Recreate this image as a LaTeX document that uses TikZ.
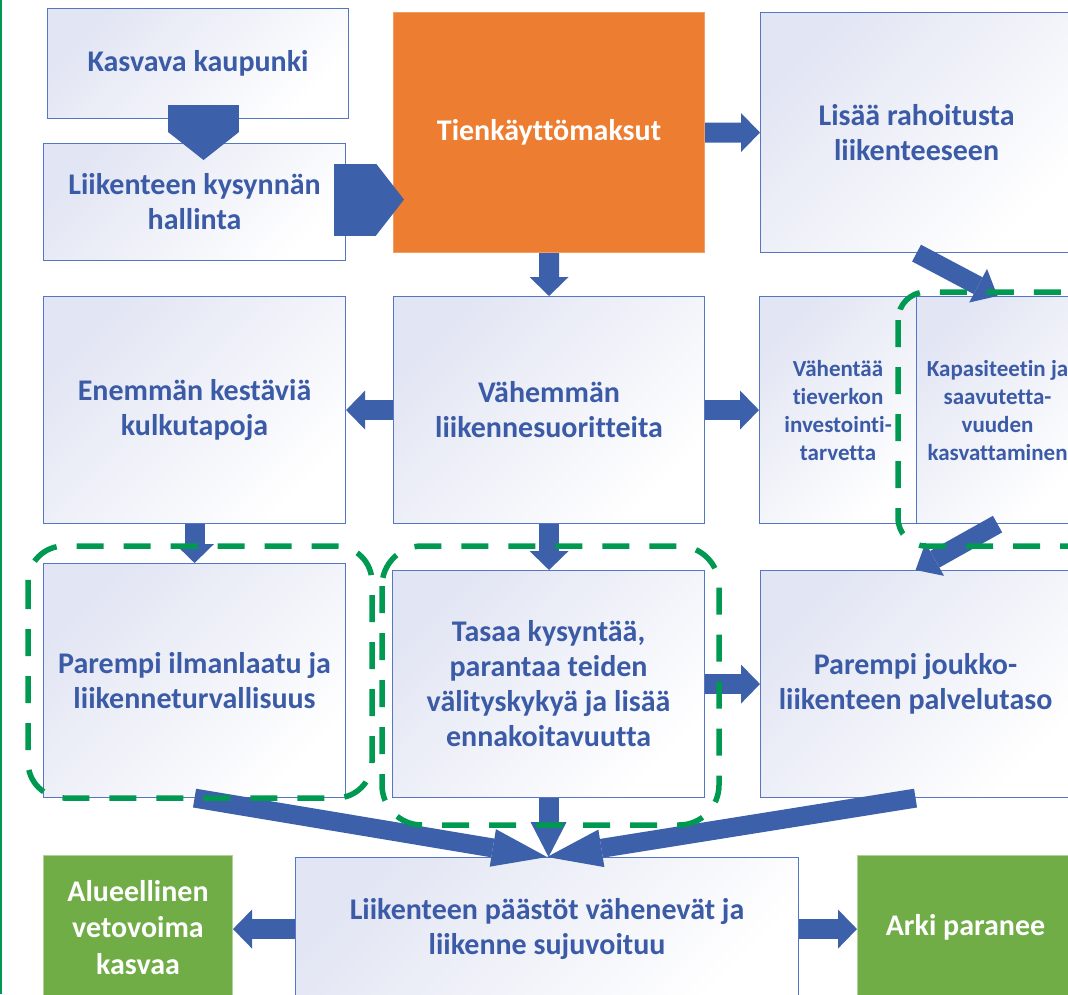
\documentclass[tikz,border=0pt]{standalone}
\usepackage{fontspec}
\setmainfont{Carlito}[Ligatures=NoCommon]
\usetikzlibrary{arrows.meta,calc}
\definecolor{txtblue}{RGB}{59,91,167}
\definecolor{arrblue}{RGB}{61,96,170}
\definecolor{boxedge}{RGB}{84,118,196}
\definecolor{lav}{RGB}{226,229,243}
\definecolor{orng}{RGB}{237,125,49}
\definecolor{grn}{RGB}{112,173,71}
\definecolor{dgrn}{RGB}{0,153,82}
\begin{document}
\begin{tikzpicture}[x=1pt,y=-1pt,
  box/.style={draw=boxedge, line width=1.1pt, top color=lav, bottom color=white, shading angle=45,
    text=txtblue, font=\bfseries\fontsize{30}{35}\selectfont, align=center, inner sep=0pt, anchor=north west},
  smallbox/.style={box, font=\bfseries\fontsize{23}{28}\selectfont},
  orangebox/.style={draw=orng!75!white, line width=1pt, fill=orng, text=white,
    font=\bfseries\fontsize{30}{35}\selectfont, align=center, inner sep=0pt, anchor=north west},
  greenbox/.style={draw=grn!55!white, line width=1pt, fill=grn, text=white,
    font=\bfseries\fontsize{30}{36.5}\selectfont, align=center, inner sep=0pt, anchor=north west},
  barr/.style={draw=arrblue, line width=20pt, -{Triangle[width=39pt,length=19pt,line width=0pt]}},
  darr/.style={draw=arrblue, line width=19pt, -{Triangle[width=38pt,length=22pt,line width=0pt]}},
  carr/.style={draw=arrblue, line width=19pt, -{Triangle[width=38pt,length=55pt,line width=0pt]}},
  marr/.style={draw=arrblue, line width=20pt, -{Triangle[width=36pt,length=35pt,line width=0pt]}},
  harr/.style={draw=arrblue, line width=#1, -{Triangle[width=#1,length=28pt,line width=0pt]}},
  dsh/.style={draw=dgrn, line width=5.5pt, dash pattern=on 27pt off 20pt},
]
\useasboundingbox (0,0) rectangle (1068,994);
\clip (0,0) rectangle (1068,994);

% left rule
\draw[dgrn, line width=2pt] (1.2,0) -- (1.2,994);

% boxes
\node[box, minimum width=301pt, minimum height=110pt] (kk) at (47,8) {Kasvava kaupunki};
\node[box, minimum width=302pt, minimum height=117pt] (lkh) at (43,143) {Liikenteen kysynnän\\hallinta};
\node[orangebox, minimum width=311pt, minimum height=240pt] (tm) at (393,12) {Tienkäyttömaksut};
\node[box, minimum width=312pt, minimum height=240pt] (lr) at (760,12) {Lisää rahoitusta\\liikenteeseen};
\node[box, minimum width=302pt, minimum height=227pt] (ek) at (43,296) {Enemmän kestäviä\\kulkutapoja};
\node[box, minimum width=311pt, minimum height=227pt] (vl) at (393,296) {Vähemmän\\liikennesuoritteita};
\node[smallbox, minimum width=157pt, minimum height=227pt] (vt) at (759,296) {Vähentää\\tieverkon\\investointi-\\tarvetta};
\node[smallbox, minimum width=162pt, minimum height=227pt] (kap) at (916,296) {Kapasiteetin ja\\saavutetta-\\vuuden\\kasvattaminen};
\node[box, minimum width=302pt, minimum height=234pt] (pi) at (43,563) {Parempi ilmanlaatu ja\\liikenneturvallisuus};
\node[box, minimum width=312pt, minimum height=227pt] (tk) at (392,570) {Tasaa kysyntää,\\parantaa teiden\\välityskykyä ja lisää\\ennakoitavuutta};
\node[box, minimum width=310pt, minimum height=227pt] (pj) at (760,570) {Parempi joukko-\\liikenteen palvelutaso};
\node[box, minimum width=503pt, minimum height=143pt] (pv) at (295,857) {Liikenteen päästöt vähenevät ja\\liikenne sujuvoituu};
\node[greenbox, minimum width=189pt, minimum height=144pt] (av) at (43,855) {Alueellinen\\vetovoima\\kasvaa};
\node[greenbox, minimum width=216pt, minimum height=144pt] (ap) at (857,855) {Arki paranee};

% connectors
\coordinate (a1s) at ([xshift=5.5pt,yshift=14pt]kk.south);
\draw[harr=71pt] (a1s) -- ($(a1s |- lkh.north)+(0,17)$);
\coordinate (a2s) at ([xshift=-12pt,yshift=2.5pt]lkh.east);
\draw[harr=72pt] (a2s) -- ($(tm.west |- a2s)+(11,0)$);
\draw[barr] (tm) -- (lr);
\draw[barr] (tm) -- (vl);
\draw[barr] (vl) -- (ek);
\draw[barr] (vl) -- (vt);
\draw[barr] (ek) -- (pi);
\draw[barr] (vl.south) -- (vl.south |- tk.north);
\draw[barr] (tk) -- (pj);
\draw[darr] (lr.south) -- (kap.north);
\draw[darr] (kap.south) -- (pj.north);
\draw[carr] (pi.south) -- (pv.north);
\draw[marr] (tk.south) -- (tk.south |- pv.north);
\draw[carr] (pj.south) -- (pv.north);
\draw[barr] (pv.west) -- (pv.west -| av.east);
\draw[barr] (pv.east) -- (pv.east -| ap.west);

% dashed groupings
\draw[dsh, rounded corners=36pt] (28,546) rectangle (372,798);
\draw[dsh, rounded corners=40pt] (382,546) rectangle (719,825);
\draw[dsh, rounded corners=28pt] (898,292) rectangle (1110,546);
\end{tikzpicture}
\end{document}
